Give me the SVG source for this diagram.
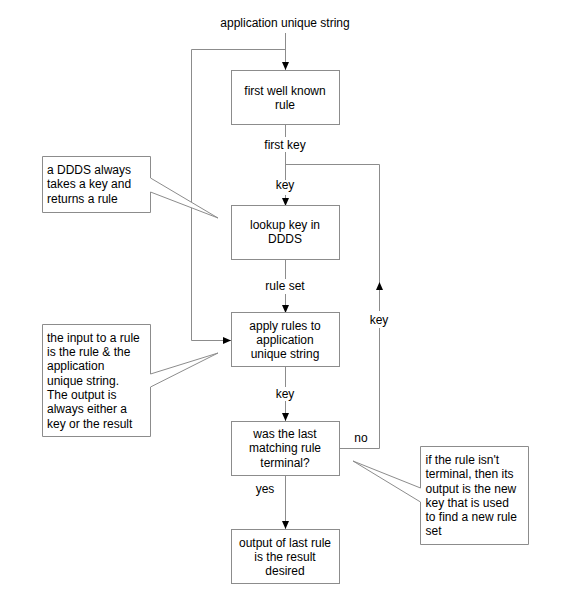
<svg xmlns="http://www.w3.org/2000/svg" width="573" height="601" viewBox="0 0 573 601">
<defs>
<style>
.box{fill:#fff;stroke:#8c8c8c;stroke-width:1}
.ln{fill:none;stroke:#8c8c8c;stroke-width:1}
.t{font-family:"Liberation Sans",Arial,sans-serif;font-size:12px;fill:#000}
.c{text-anchor:middle}
</style>
<marker id="ah" viewBox="0 0 8 8" refX="8" refY="4" markerWidth="8" markerHeight="8" markerUnits="userSpaceOnUse" orient="auto">
<path d="M0,0.5 L8,4 L0,7.5 z" fill="#000"/>
</marker>
</defs>
<rect width="573" height="601" fill="#fff"/>
<g id="connectors">
<path class="ln" d="M285.5,33 V70" marker-end="url(#ah)"/>
<path class="ln" d="M285.5,49.5 H191.5 V340.5 H231" marker-end="url(#ah)"/>
<path class="ln" d="M285.5,124 V137 M285.5,152 V180"/>
<path class="ln" d="M285.5,164.5 H379.5 V290"/>
<path class="ln" d="M285.5,195 V206" marker-end="url(#ah)"/>
<path class="ln" d="M285.5,259 V279"/>
<path class="ln" d="M285.5,294 V313" marker-end="url(#ah)"/>
<path class="ln" d="M285.5,366 V387"/>
<path class="ln" d="M285.5,401 V421" marker-end="url(#ah)"/>
<path class="ln" d="M285.5,475 V529" marker-end="url(#ah)"/>
<path class="ln" d="M339,448.5 H379.5 V328"/>
<path class="ln" d="M379.5,311 V282" marker-end="url(#ah)"/>
<text class="t c" x="285" y="27">application unique string</text>
<text class="t c" x="285" y="149">first key</text>
<text class="t c" x="285" y="189">key</text>
<text class="t c" x="285" y="290">rule set</text>
<text class="t c" x="379" y="324">key</text>
<text class="t c" x="285" y="398">key</text>
<text class="t c" x="361" y="442">no</text>
<text class="t c" x="265" y="493">yes</text>
</g>
<g id="n1">
<rect class="box" x="231.5" y="70.5" width="108" height="54"/>
<text class="t c" x="285" y="95">first well known</text>
<text class="t c" x="285" y="109">rule</text>
</g>
<g id="n2">
<rect class="box" x="231.5" y="205.5" width="108" height="54"/>
<text class="t c" x="285" y="229">lookup key in</text>
<text class="t c" x="285" y="243">DDDS</text>
</g>
<g id="n3">
<rect class="box" x="231.5" y="312.5" width="108" height="54"/>
<text class="t c" x="285" y="330">apply rules to</text>
<text class="t c" x="285" y="344">application</text>
<text class="t c" x="285" y="358">unique string</text>
</g>
<g id="n4">
<rect class="box" x="231.5" y="421.5" width="108" height="54"/>
<text class="t c" x="285" y="437.5">was the last</text>
<text class="t c" x="285" y="452">matching rule</text>
<text class="t c" x="285" y="466.5">terminal?</text>
</g>
<g id="n5">
<rect class="box" x="231.5" y="529.5" width="108" height="54"/>
<text class="t c" x="285" y="547">output of last rule</text>
<text class="t c" x="285" y="561">is the result</text>
<text class="t c" x="285" y="575">desired</text>
</g>
<g id="callout1">
<polygon class="box" points="42.5,156.5 150.5,156.5 150.5,178 218,218 150.5,192 150.5,212.5 42.5,212.5"/>
<text class="t" x="47" y="174">a DDDS always</text>
<text class="t" x="47" y="188">takes a key and</text>
<text class="t" x="47" y="203">returns a rule</text>
</g>
<g id="callout2">
<polygon class="box" points="42.5,324.5 150.5,324.5 150.5,374 218,353 150.5,387 150.5,436.5 42.5,436.5"/>
<text class="t" x="47" y="342">the input to a rule</text>
<text class="t" x="47" y="356">is the rule &amp; the</text>
<text class="t" x="47" y="370">application</text>
<text class="t" x="47" y="384.5">unique string.</text>
<text class="t" x="47" y="399">The output is</text>
<text class="t" x="47" y="413">always either a</text>
<text class="t" x="47" y="427.5">key or the result</text>
</g>
<g id="callout3">
<polygon class="box" points="420.5,446.5 528.5,446.5 528.5,544.5 420.5,544.5 420.5,502 353,461 420.5,488"/>
<text class="t" x="425.5" y="464">if the rule isn't</text>
<text class="t" x="425.5" y="478">terminal, then its</text>
<text class="t" x="425.5" y="492.5">output is the new</text>
<text class="t" x="425.5" y="506.5">key that is used</text>
<text class="t" x="425.5" y="520.5">to find a new rule</text>
<text class="t" x="425.5" y="534.5">set</text>
</g>
</svg>
